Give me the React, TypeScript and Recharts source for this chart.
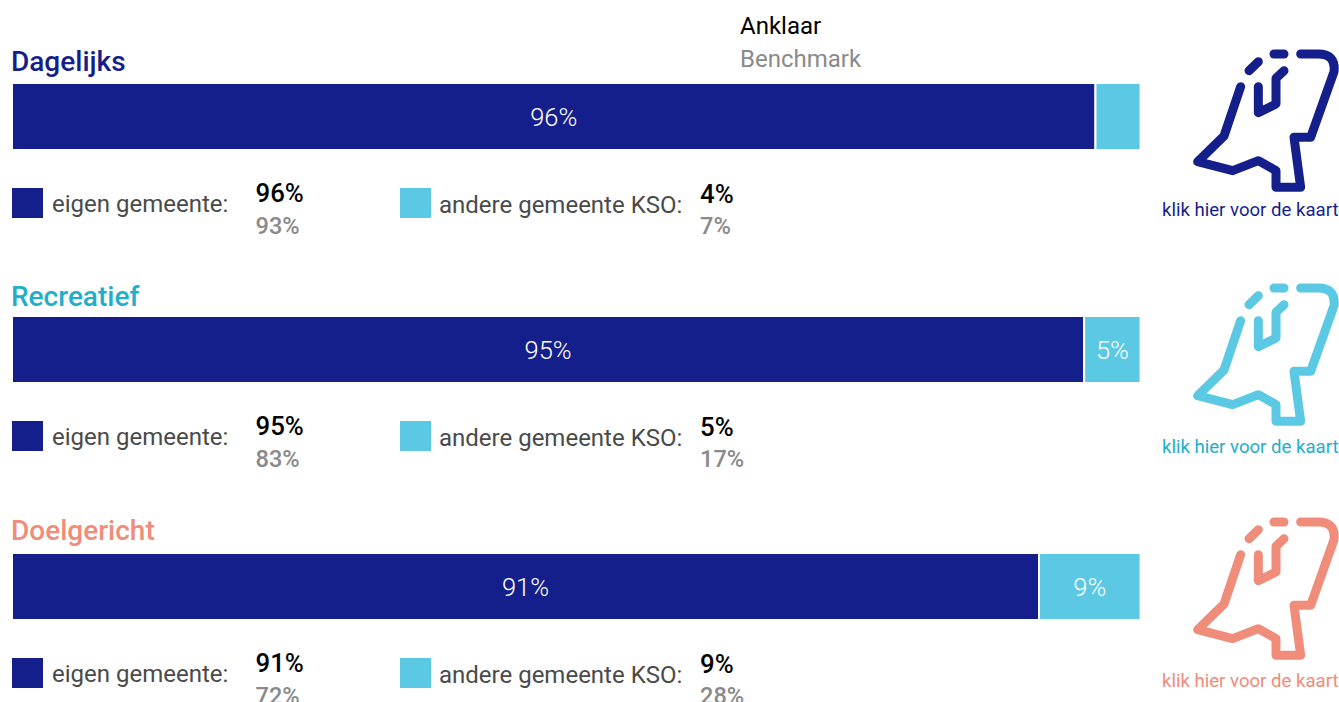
import { BarChart, Bar, XAxis, YAxis, LabelList } from 'recharts'

const categories = ['Dagelijks', 'Recreatief', 'Doelgericht']
const eigenGemeente = [96, 95, 91]
const andereGemeente = [4, 5, 9]
const eigenBenchmark = [93, 83, 72]
const andereBenchmark = [7, 17, 28]
const titleColors = ['#151f8c', '#22aeca', '#f08c7a']
const iconColors = ['#151f8c', '#5bc8e4', '#f08c7a']

const NAVY = '#151f8c'
const CYAN = '#5bc8e4'

// vertical layout per block, the blocks are not evenly spaced in the original
const barTops = [83, 316, 553]
const titleTops = [45, 280, 514]
const legendTops = [188, 421, 658]
const valueTops = [178, 411, 648]
const linkTops = [198.5, 435.5, 669.5]
const iconTops = [30, 264, 498]

const hideSmall = (v: unknown) => (Number(v) < 5 ? '' : `${v}%`)

function MapIcon({ color, top }: { color: string; top: number }) {
  return (
    <svg
      width={189}
      height={170}
      viewBox="0 0 567 510"
      style={{ position: 'absolute', left: 1150, top }}
      fill="none"
      stroke={color}
      strokeWidth={27}
      strokeLinecap="round"
      strokeLinejoin="round"
    >
      <path d="M272 170 L222 318 L143 395 L248 422 L325 392 L378 422 L378 472 L452 472 L432 322 L482 322 L552 125 Q558 72 505 72 L452 72" />
      <path d="M325 170 L325 248 L378 222 L378 145 L402 122" />
      <path d="M297 122 L325 95" />
      <path d="M372 72 L402 72" />
    </svg>
  )
}

function Swatch({ color, left, top }: { color: string; left: number; top: number }) {
  return <div style={{ position: 'absolute', left, top, width: 31, height: 30, background: color }} />
}

function Text({ left, top, size, color, weight = 400, children }: {
  left: number; top: number; size: number; color: string; weight?: number; children: React.ReactNode
}) {
  return (
    <div style={{ position: 'absolute', left, top, fontSize: size, color, fontWeight: weight, lineHeight: 1.2, whiteSpace: 'nowrap' }}>
      {children}
    </div>
  )
}

function Block({ index }: { index: number }) {
  const data = [{ name: categories[index], eigen: eigenGemeente[index], andere: andereGemeente[index] }]
  return (
    <>
      <Text left={11} top={titleTops[index]} size={28} color={titleColors[index]} weight={500}>
        {categories[index]}
      </Text>
      <div style={{ position: 'absolute', left: 12.4, top: barTops[index] }}>
        <BarChart
          width={1128.6}
          height={67}
          data={data}
          layout="vertical"
          barCategoryGap={0}
          margin={{ top: 0, right: 0, bottom: 0, left: 0 }}
        >
          <XAxis type="number" domain={[0, 100]} hide />
          <YAxis type="category" dataKey="name" hide />
          <Bar dataKey="eigen" stackId="a" fill={NAVY} stroke="#fff" strokeWidth={2} isAnimationActive={false}>
            <LabelList dataKey="eigen" position="center" fill="#fff" fontSize={25.5} fontWeight={300} formatter={hideSmall} />
          </Bar>
          <Bar dataKey="andere" stackId="a" fill={CYAN} stroke="#fff" strokeWidth={2} isAnimationActive={false}>
            <LabelList dataKey="andere" position="center" fill="#fff" fontSize={25.5} fontWeight={300} formatter={hideSmall} />
          </Bar>
        </BarChart>
      </div>

      <Swatch color={NAVY} left={12} top={legendTops[index]} />
      <Text left={52} top={legendTops[index] + 2} size={24} color="#4a4a4a">eigen gemeente:</Text>
      <Text left={255.5} top={valueTops[index]} size={25.8} color="#000" weight={500}>{eigenGemeente[index]}%</Text>
      <Text left={255.5} top={valueTops[index] + 34} size={23.6} color="#8a8a8a" weight={500}>{eigenBenchmark[index]}%</Text>

      <Swatch color={CYAN} left={400} top={legendTops[index]} />
      <Text left={439} top={legendTops[index] + 3} size={24} color="#4a4a4a">andere gemeente KSO:</Text>
      <Text left={700} top={valueTops[index] + 1} size={25.8} color="#000" weight={500}>{andereGemeente[index]}%</Text>
      <Text left={700} top={valueTops[index] + 34} size={23.6} color="#8a8a8a" weight={500}>{andereBenchmark[index]}%</Text>

      <MapIcon color={iconColors[index]} top={iconTops[index]} />
      <Text left={1162} top={linkTops[index]} size={18.6} color={titleColors[index]}>klik hier voor de kaart</Text>
    </>
  )
}

export default function App() {
  return (
    <div
      style={{
        position: 'absolute', left: 0, top: 0, width: 1339, height: 702,
        overflow: 'hidden', background: '#fff', fontFamily: 'Roboto, sans-serif',
      }}
    >
      <Text left={740} top={12} size={24} color="#000">Anklaar</Text>
      <Text left={740} top={45} size={24} color="#8a8a8a">Benchmark</Text>
      {categories.map((_, i) => (
        <Block key={i} index={i} />
      ))}
    </div>
  )
}
